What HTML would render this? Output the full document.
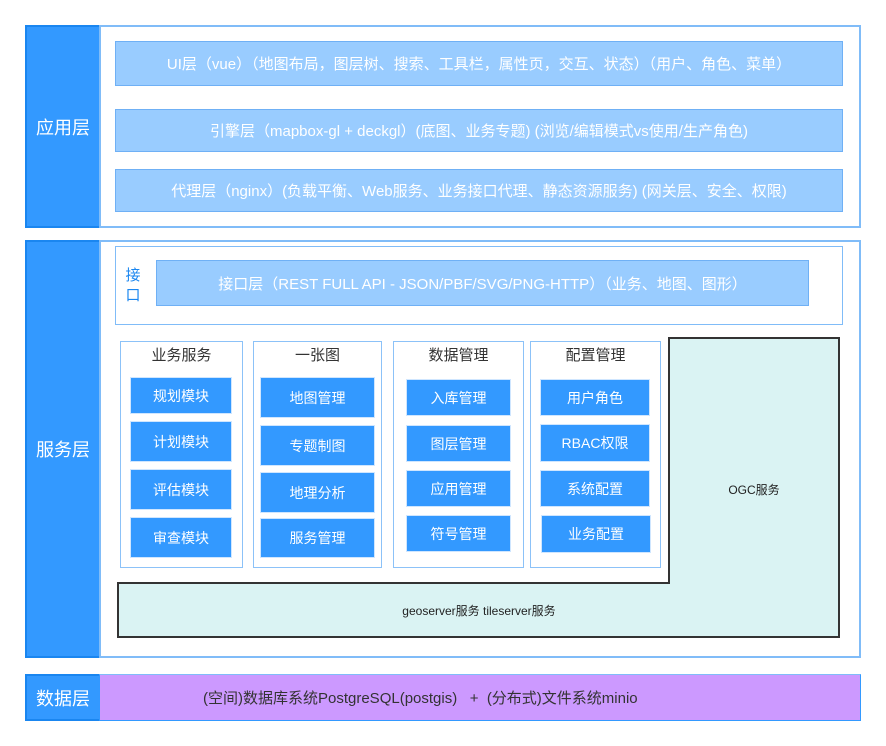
<!DOCTYPE html>
<html><head><meta charset="utf-8"><style>
body{margin:0;width:886px;height:746px;background:#fff;position:relative;overflow:hidden;font-family:"Liberation Sans","Noto Sans CJK SC",sans-serif;}
.a{position:absolute;box-sizing:border-box;display:flex;align-items:center;justify-content:center;text-align:center;white-space:nowrap;}
.lab{background:#3399ff;border:2px solid #1a86f0;color:#fff;font-size:18px;}
.pan{background:#fff;border:2px solid #80bcf8;}
.row{background:#99ccff;border:1.5px solid #6fb0f5;color:#fff;font-size:15px;}
.col{background:#fff;border:1.5px solid #8cc2f8;align-items:flex-start;padding-top:2px;color:#333;font-size:15px;}
.it{background:#3399ff;border:1px solid #cfe6ff;color:#fff;font-size:14px;}
</style></head><body>
<div class="a lab" style="left:25px;top:25px;width:76px;height:203px;">应用层</div>
<div class="a pan" style="left:99px;top:25px;width:762px;height:203px;"></div>
<div class="a row" style="left:115px;top:41px;width:728px;height:45px;">UI层（vue）（地图布局，图层树、搜索、工具栏，属性页，交互、状态）（用户、角色、菜单）</div>
<div class="a row" style="left:115px;top:109px;width:728px;height:43px;">引擎层（mapbox-gl + deckgl）(底图、业务专题) (浏览/编辑模式vs使用/生产角色)</div>
<div class="a row" style="left:115px;top:169px;width:728px;height:43px;">代理层（nginx）(负载平衡、Web服务、业务接口代理、静态资源服务) (网关层、安全、权限)</div>

<div class="a lab" style="left:25px;top:240px;width:76px;height:418px;">服务层</div>
<div class="a pan" style="left:99px;top:240px;width:762px;height:418px;"></div>
<div class="a" style="left:115px;top:246px;width:728px;height:79px;border:1.5px solid #80bcf8;background:#fff;"></div>
<div class="a" style="left:122px;top:264px;width:22px;height:44px;color:#1a86f0;font-size:15px;white-space:normal;line-height:20px;">接<br>口</div>
<div class="a row" style="left:156px;top:260px;width:653px;height:46px;">接口层（REST FULL API - JSON/PBF/SVG/PNG-HTTP）（业务、地图、图形）</div>

<svg style="position:absolute;left:0;top:0" width="886" height="746">
<polygon points="669,338 839,338 839,637 118,637 118,583 669,583" fill="#daf3f3" stroke="#333" stroke-width="2"/>
<text x="754" y="494" font-size="12" fill="#222" text-anchor="middle" font-family="Liberation Sans,Noto Sans CJK SC,sans-serif">OGC服务</text>
<text x="479" y="615" font-size="12" fill="#222" text-anchor="middle" font-family="Liberation Sans,Noto Sans CJK SC,sans-serif">geoserver服务 tileserver服务</text>
</svg>

<div class="a col" style="left:120px;top:341px;width:123px;height:227px;">业务服务</div>
<div class="a it" style="left:130px;top:377px;width:102px;height:37px;">规划模块</div>
<div class="a it" style="left:130px;top:421px;width:102px;height:41px;">计划模块</div>
<div class="a it" style="left:130px;top:469px;width:102px;height:41px;">评估模块</div>
<div class="a it" style="left:130px;top:517px;width:102px;height:41px;">审查模块</div>

<div class="a col" style="left:253px;top:341px;width:129px;height:227px;">一张图</div>
<div class="a it" style="left:260px;top:377px;width:115px;height:41px;">地图管理</div>
<div class="a it" style="left:260px;top:425px;width:115px;height:41px;">专题制图</div>
<div class="a it" style="left:260px;top:472px;width:115px;height:41px;">地理分析</div>
<div class="a it" style="left:260px;top:518px;width:115px;height:40px;">服务管理</div>

<div class="a col" style="left:393px;top:341px;width:131px;height:227px;">数据管理</div>
<div class="a it" style="left:406px;top:379px;width:105px;height:37px;">入库管理</div>
<div class="a it" style="left:406px;top:425px;width:105px;height:37px;">图层管理</div>
<div class="a it" style="left:406px;top:470px;width:105px;height:37px;">应用管理</div>
<div class="a it" style="left:406px;top:515px;width:105px;height:37px;">符号管理</div>

<div class="a col" style="left:530px;top:341px;width:131px;height:227px;">配置管理</div>
<div class="a it" style="left:540px;top:379px;width:110px;height:37px;">用户角色</div>
<div class="a it" style="left:540px;top:424px;width:110px;height:38px;">RBAC权限</div>
<div class="a it" style="left:540px;top:470px;width:110px;height:37px;">系统配置</div>
<div class="a it" style="left:541px;top:515px;width:110px;height:38px;">业务配置</div>

<div class="a lab" style="left:25px;top:674px;width:76px;height:47px;">数据层</div>
<div class="a" style="left:99px;top:674px;width:762px;height:47px;background:#cc99ff;border:1.5px solid #3399ff;border-top-color:#80bcf8;color:#333;font-size:15px;justify-content:flex-start;padding-left:103px;">(空间)数据库系统PostgreSQL(postgis) &nbsp;&nbsp;+ &nbsp;(分布式)文件系统minio</div>
</body></html>
